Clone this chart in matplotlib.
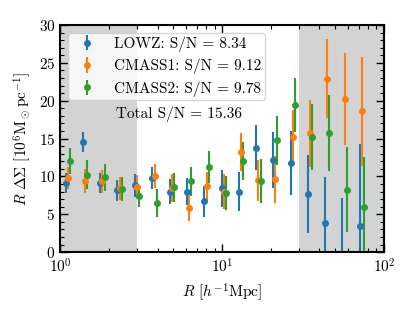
import numpy as np
import matplotlib
matplotlib.use("Agg")
import matplotlib.pyplot as plt
from matplotlib.ticker import MultipleLocator

plt.rcParams["font.family"] = "serif"
plt.rcParams["font.serif"] = ["cmr10"]
plt.rcParams["mathtext.fontset"] = "cm"
plt.rcParams["axes.formatter.use_mathtext"] = True
plt.rcParams["font.size"] = 11

# radial bins (slightly offset per sample)
R_lowz = [1.08, 1.38, 1.77, 2.26, 2.90, 3.71, 4.75, 6.08, 7.78, 9.96, 12.7, 16.3, 20.7, 26.5, 33.9, 43.4, 55.5, 71.1]
R_cmass1 = [1.12, 1.43, 1.82, 2.35, 3.00, 3.84, 4.92, 6.28, 8.03, 10.25, 13.1, 16.8, 21.3, 27.4, 34.9, 44.7, 57.5, 73.0]
R_cmass2 = [1.15, 1.47, 1.89, 2.41, 3.09, 3.95, 5.05, 6.45, 8.26, 10.6, 13.5, 17.3, 22.0, 28.1, 36.0, 46.1, 59.0, 75.4]

ds_lowz = [9.15, 14.5, 9.15, 8.15, 8.8, 9.8, 8.0, 7.97, 6.7, 8.4, 7.97, 13.8, 12.2, 11.75, 7.66, 3.83, -1.0, 3.43]
err_lowz = [1.3, 1.3, 1.3, 1.4, 1.5, 1.5, 1.6, 1.8, 2.0, 2.4, 2.6, 3.0, 3.7, 4.2, 5.1, 6.1, 8.2, 10.8]

ds_cmass1 = [9.8, 9.4, 9.33, 8.4, 8.6, 10.1, 8.45, 5.77, 8.67, 8.0, 13.2, 9.5, 9.64, 15.2, 15.7, 22.9, 20.2, 18.6]
err_cmass1 = [1.5, 1.6, 1.5, 1.5, 1.6, 1.6, 1.8, 1.6, 1.9, 2.3, 2.5, 2.7, 3.1, 3.6, 4.4, 5.2, 6.1, 7.2]

ds_cmass2 = [12.0, 10.2, 9.87, 8.3, 7.4, 6.5, 8.55, 9.33, 11.2, 7.8, 12.0, 9.4, 14.75, 19.4, 15.2, 15.7, 8.23, 5.94]
err_cmass2 = [1.7, 1.9, 1.8, 1.6, 1.4, 1.8, 1.9, 1.95, 2.1, 2.2, 2.5, 2.85, 3.2, 3.6, 4.3, 5.0, 5.6, 6.6]

labels = ["LOWZ: S/N = 8.34", "CMASS1: S/N = 9.12", "CMASS2: S/N = 9.78"]
total_sn = "Total S/N = 15.36"

R_min_fit, R_max_fit = 3.0, 30.0

fig = plt.figure(figsize=(4.15, 3.12), dpi=100)
ax = fig.add_axes([0.145, 0.192, 0.78, 0.728])

ax.axvspan(1.0, R_min_fit, color="lightgray", zorder=0, lw=0)
ax.axvspan(R_max_fit, 100.0, color="lightgray", zorder=0, lw=0)

for R, ds, err, lab, c in [(R_lowz, ds_lowz, err_lowz, labels[0], "C0"),
                           (R_cmass1, ds_cmass1, err_cmass1, labels[1], "C1"),
                           (R_cmass2, ds_cmass2, err_cmass2, labels[2], "C2")]:
    ax.errorbar(R, ds, yerr=err, fmt="o", color=c, ms=4, elinewidth=1.5, label=lab)

ax.set_xscale("log")
ax.set_xlim(1, 100)
ax.set_ylim(0, 30)
ax.yaxis.set_major_locator(MultipleLocator(5))
ax.yaxis.set_minor_locator(MultipleLocator(1))
ax.tick_params(which="both", direction="in", top=True, right=True)
ax.tick_params(which="major", length=6, width=1)
ax.tick_params(which="minor", length=3, width=0.8)
for s in ax.spines.values():
    s.set_linewidth(1.5)

ax.set_xlabel(r"$R$ [$h^{-1}$Mpc]")
ax.set_ylabel(r"$R\ \Delta\Sigma$ [$10^6$M$_\odot$pc$^{-1}$]")

ax.legend(loc="upper left", fontsize=11, borderpad=0.25, labelspacing=0.45)
ax.text(0.173, 0.607, total_sn, transform=ax.transAxes, ha="left", va="center", fontsize=11)

fig.savefig("out.png", dpi=100)
